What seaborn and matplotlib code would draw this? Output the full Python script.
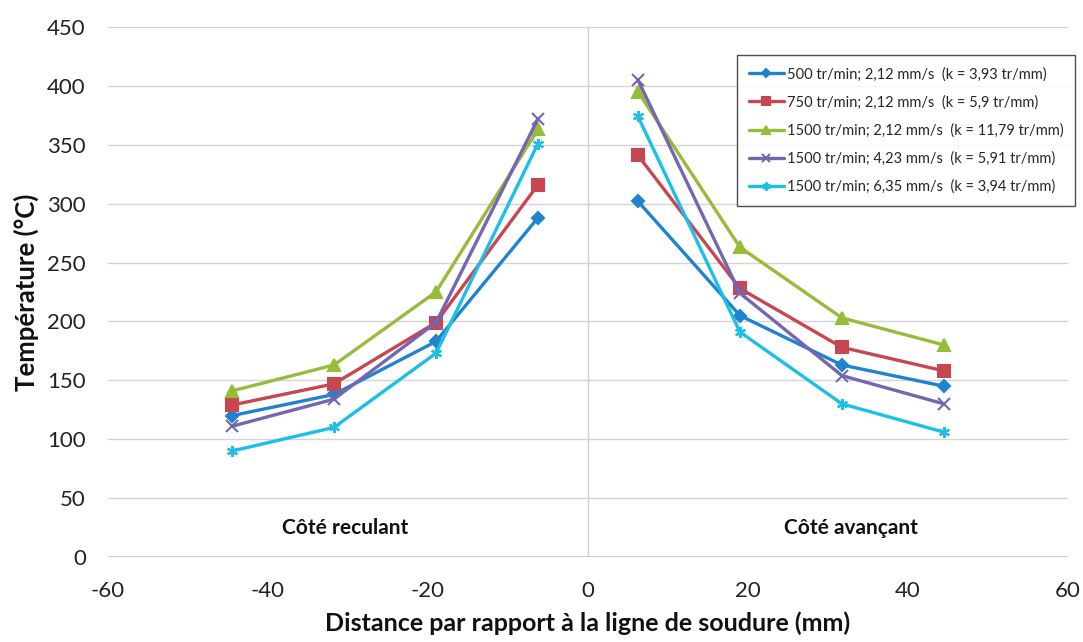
import matplotlib
matplotlib.use("Agg")
import matplotlib.pyplot as plt
from matplotlib.lines import Line2D
import pandas as pd
import seaborn as sns

# distance to the weld line (mm), retreating side then advancing side
distance = [-44.5, -31.75, -19, -6.25, 6.25, 19, 31.75, 44.5]
cote = ["reculant"] * 4 + ["avançant"] * 4

series_labels = [
    "500 tr/min; 2,12 mm/s  (k = 3,93 tr/mm)",
    "750 tr/min; 2,12 mm/s  (k = 5,9 tr/mm)",
    "1500 tr/min; 2,12 mm/s  (k = 11,79 tr/mm)",
    "1500 tr/min; 4,23 mm/s  (k = 5,91 tr/mm)",
    "1500 tr/min; 6,35 mm/s  (k = 3,94 tr/mm)",
]
temp_500_212 = [120, 138, 183, 288, 302, 205, 163, 145]
temp_750_212 = [129, 147, 199, 316, 341, 228, 178, 158]
temp_1500_212 = [141, 163, 225, 363, 395, 263, 203, 180]
temp_1500_423 = [111, 134, 199, 372, 405, 224, 154, 130]
temp_1500_635 = [90, 110, 173, 351, 374, 191, 130, 106]

all_temps = [temp_500_212, temp_750_212, temp_1500_212, temp_1500_423, temp_1500_635]
colors = ["#1f83d0", "#c8464f", "#96bd3a", "#7466b0", "#1cc0e6"]
markers = ["D", "s", "^", "x", (6, 2, 0)]
msizes = [6, 8, 8, 8, 8]


def main():
    rows = []
    for lab, temps in zip(series_labels, all_temps):
        for d, c, t in zip(distance, cote, temps):
            rows.append({"serie": lab, "distance": d, "cote": c, "temperature": t})
    df = pd.DataFrame(rows)

    sns.set_style("white")
    plt.rcParams["font.family"] = ["Lato", "DejaVu Sans"]
    plt.rcParams["axes.unicode_minus"] = False

    fig = plt.figure(figsize=(10.83, 6.42), dpi=100)
    ax = fig.add_axes([0.0997, 0.1324, 0.8864, 0.8256])

    handles = []
    for lab, col, mk, ms in zip(series_labels, colors, markers, msizes):
        sub = df[df["serie"] == lab]
        sns.lineplot(data=sub, x="distance", y="temperature", units="cote",
                     estimator=None, sort=False, color=col, marker=mk,
                     markersize=ms, markeredgecolor=col, markeredgewidth=1.5,
                     linewidth=2.4, ax=ax)
        handles.append(Line2D([], [], color=col, marker=mk, markersize=ms * 0.75,
                              markeredgecolor=col, markeredgewidth=1.5, linewidth=2.4))

    leg = ax.legend(handles, series_labels, loc="upper right", bbox_to_anchor=(0.9926, 0.914),
                    bbox_transform=fig.transFigure, fontsize=10.5, frameon=True,
                    fancybox=False, handlelength=2.4, handletextpad=0.2,
                    labelspacing=0.95, borderpad=0.8, borderaxespad=0)
    leg.get_frame().set_edgecolor("#222222")
    leg.get_frame().set_linewidth(1.0)

    ax.set_xlim(-60, 60)
    ax.set_ylim(0, 450)
    ax.set_xticks(range(-60, 61, 20))
    ax.set_yticks(range(0, 451, 50))
    ax.yaxis.grid(True, color="#d4d4d4", linewidth=1.0)
    ax.xaxis.grid(False)
    ax.axvline(0, color="#cfcfcf", linewidth=1.0, zorder=0)
    ax.axhline(0, color="#bdbdbd", linewidth=1.2, zorder=0)
    for s in ax.spines.values():
        s.set_visible(False)
    ax.tick_params(axis="both", length=0, labelsize=16, colors="#222222")
    ax.tick_params(axis="y", pad=16)
    ax.tick_params(axis="x", pad=17)

    ax.set_xlabel("Distance par rapport à la ligne de soudure (mm)", fontsize=18,
                  fontweight="bold", labelpad=8, color="#111111")
    ax.set_ylabel("Température (°C)", fontsize=18.5, fontweight="bold", labelpad=6,
                  color="#111111")

    ax.text(-30.4, 24.6, "Côté reculant", ha="center", va="center", fontsize=15,
            fontweight="bold", color="#111111")
    ax.text(32.9, 24.6, "Côté avançant", ha="center", va="center", fontsize=15,
            fontweight="bold", color="#111111")

    fig.savefig("out.png", dpi=100)
    plt.close(fig)


if __name__ == "__main__":
    main()
